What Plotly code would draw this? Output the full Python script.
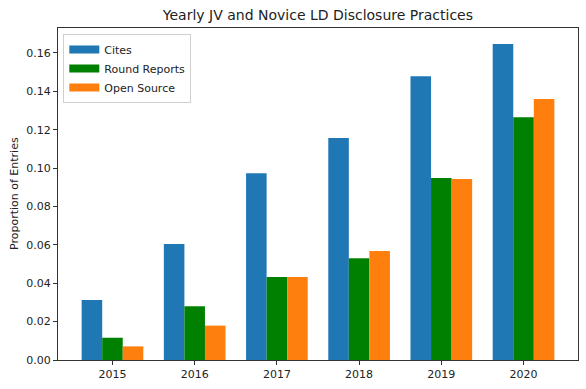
import plotly.graph_objects as go

years = ["2015", "2016", "2017", "2018", "2019", "2020"]
cites = [0.0313, 0.0605, 0.0973, 0.1157, 0.1478, 0.1647]
round_reports = [0.0116, 0.0280, 0.0433, 0.0530, 0.0949, 0.1265]
open_source = [0.0071, 0.0179, 0.0433, 0.0568, 0.0943, 0.1360]

series = [("Cites", cites, "#1f77b4"),
          ("Round Reports", round_reports, "#008000"),
          ("Open Source", open_source, "#ff7f0e")]

xpos = list(range(len(years)))
fig = go.Figure()
for name, vals, col in series:
    fig.add_trace(go.Bar(x=xpos, y=vals, name=name, marker=dict(color=col, line=dict(width=0)),
                         showlegend=False))
for name, vals, col in series:
    fig.add_trace(go.Scatter(x=[None], y=[None], mode="lines", name=name,
                             line=dict(color=col, width=8), showlegend=True))

font = "DejaVu Sans"
fig.update_layout(
    width=586, height=389,
    margin=dict(l=58, r=8, t=28, b=29, autoexpand=False),
    paper_bgcolor="white", plot_bgcolor="white",
    barmode="group", bargap=0.25, bargroupgap=0,
    font=dict(family=font, size=11, color="#222"),
    title=dict(text="Yearly JV and Novice LD Disclosure Practices", x=0.5425, xanchor="center",
               y=1 - 15 / 389, yanchor="middle", yref="container",
               font=dict(family=font, size=14, color="#222")),
    legend=dict(x=0.0102, y=0.982, xanchor="left", yanchor="top",
                bordercolor="#d0d0d0", borderwidth=1, bgcolor="rgba(255,255,255,0.9)",
                font=dict(family=font, size=11, color="#222"),
                tracegroupgap=0),
    xaxis=dict(range=[-0.6625, 5.6625], tickvals=xpos, ticktext=years, automargin=False,
               showline=True, linecolor="#333", linewidth=1, mirror=True,
               ticks="outside", ticklen=4, tickcolor="#333", showgrid=False, zeroline=False,
               tickfont=dict(family=font, size=11, color="#222")),
    yaxis=dict(range=[0, 0.173], dtick=0.02, tick0=0, tickformat=".2f", automargin=False,
               showline=True, linecolor="#333", linewidth=1, mirror=True,
               ticks="outside", ticklen=4, tickcolor="#333", showgrid=False, zeroline=False,
               tickfont=dict(family=font, size=11, color="#222")),
    annotations=[dict(text="Proportion of Entries", xref="paper", yref="paper",
                      x=(14 - 58) / 520, y=0.5, xanchor="center", yanchor="middle",
                      textangle=-90, showarrow=False,
                      font=dict(family=font, size=11, color="#222"))],
)
fig.write_html("out.html", config={"displayModeBar": False},
               post_script="document.body.style.margin='0';")
